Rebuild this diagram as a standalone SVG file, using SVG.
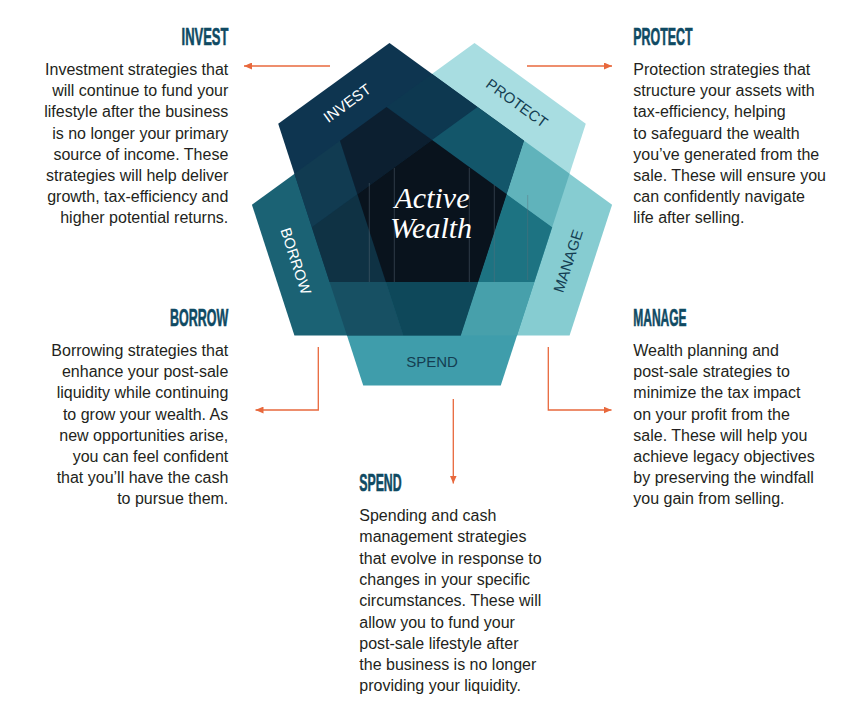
<svg xmlns="http://www.w3.org/2000/svg" width="853" height="720" viewBox="0 0 853 720">
<style>
.body{font-family:"Liberation Sans",Arial,sans-serif;font-size:16px;fill:#231f20}
.r{text-anchor:end}
.h{font-family:"Liberation Sans",Arial,sans-serif;font-weight:bold;font-size:23px;fill:#0f4a63;stroke:#0f4a63;stroke-width:0.6}
.lbl{font-family:"Liberation Sans",Arial,sans-serif;font-size:15px;text-anchor:middle}
.w{fill:#ffffff}
.d{fill:#143d52}
.arrow{fill:none;stroke:#e8683c;stroke-width:1.3}
.seam{stroke:#5f707c;stroke-width:0.8;opacity:0.55}
</style>
<defs>
<marker id="ah" viewBox="0 0 8 7" refX="8" refY="3.5" markerWidth="8" markerHeight="7" orient="auto" markerUnits="userSpaceOnUse"><path d="M0,0 L8,3.5 L0,7 z" fill="#e8683c"/></marker>
</defs>
<rect width="853" height="720" fill="#ffffff"/>

<g id="protect">
<polygon points="474.53,42.98 585.79,123.81 534.39,282.01 385.86,282.01 339.97,140.75" fill="#a8dde1"/>
<text class="lbl d" transform="translate(517,103) rotate(36)" y="5.4">PROTECT</text>
<text class="h" x="633.3" y="45" textLength="59.3" lengthAdjust="spacingAndGlyphs">PROTECT</text>
<text class="body" x="633.3" y="75"><tspan x="633.3">Protection strategies that</tspan><tspan x="633.3" dy="21.2">structure your assets with</tspan><tspan x="633.3" dy="21.2">tax-efficiency, helping</tspan><tspan x="633.3" dy="21.2">to safeguard the wealth</tspan><tspan x="633.3" dy="21.2">you’ve generated from the</tspan><tspan x="633.3" dy="21.2">sale. These will ensure you</tspan><tspan x="633.3" dy="21.2">can confidently navigate</tspan><tspan x="633.3" dy="21.2">life after selling.</tspan></text>
</g>

<g id="manage">
<polygon points="612.08,204.71 477.51,106.95 357.34,194.24 403.25,335.5 569.58,335.5" fill="#86ccd1"/>
<text class="lbl d" transform="translate(568,261) rotate(-72)" y="5.4">MANAGE</text>
<text class="h" x="633.3" y="326" textLength="53.3" lengthAdjust="spacingAndGlyphs">MANAGE</text>
<text class="body" x="633.3" y="356"><tspan x="633.3">Wealth planning and</tspan><tspan x="633.3" dy="21.2">post-sale strategies to</tspan><tspan x="633.3" dy="21.2">minimize the tax impact</tspan><tspan x="633.3" dy="21.2">on your profit from the</tspan><tspan x="633.3" dy="21.2">sale. These will help you</tspan><tspan x="633.3" dy="21.2">achieve legacy objectives</tspan><tspan x="633.3" dy="21.2">by preserving the windfall</tspan><tspan x="633.3" dy="21.2">you gain from selling.</tspan></text>
</g>

<g id="spend">
<polygon points="432,140 552.16,227.31 500.76,385.5 363.24,385.5 311.84,227.31" fill="#3f9dab"/>
<text class="lbl d" x="432" y="366.5">SPEND</text>
<text class="h" x="359.3" y="491" textLength="42.3" lengthAdjust="spacingAndGlyphs">SPEND</text>
<text class="body" x="359.3" y="521"><tspan x="359.3">Spending and cash</tspan><tspan x="359.3" dy="21.3">management strategies</tspan><tspan x="359.3" dy="21.3">that evolve in response to</tspan><tspan x="359.3" dy="21.3">changes in your specific</tspan><tspan x="359.3" dy="21.3">circumstances. These will</tspan><tspan x="359.3" dy="21.3">allow you to fund your</tspan><tspan x="359.3" dy="21.3">post-sale lifestyle after</tspan><tspan x="359.3" dy="21.3">the business is no longer</tspan><tspan x="359.3" dy="21.3">providing your liquidity.</tspan></text>
</g>

<g id="borrow">
<polygon points="251.92,204.71 386.49,106.95 506.66,194.24 460.75,335.5 294.42,335.5" fill="#1b6274"/>
<text class="lbl w" transform="translate(296,261) rotate(72)" y="5.4">BORROW</text>
<text class="h r" x="228.3" y="326" textLength="58.3" lengthAdjust="spacingAndGlyphs">BORROW</text>
<text class="body r" x="228.3" y="356"><tspan x="228.3">Borrowing strategies that</tspan><tspan x="228.3" dy="21.2">enhance your post-sale</tspan><tspan x="228.3" dy="21.2">liquidity while continuing</tspan><tspan x="228.3" dy="21.2">to grow your wealth. As</tspan><tspan x="228.3" dy="21.2">new opportunities arise,</tspan><tspan x="228.3" dy="21.2">you can feel confident</tspan><tspan x="228.3" dy="21.2">that you’ll have the cash</tspan><tspan x="228.3" dy="21.2">to pursue them.</tspan></text>
</g>

<g id="invest">
<polygon points="389.47,42.98 524.03,140.75 478.14,282.01 329.61,282.01 278.21,123.81" fill="#0e3550"/>
<text class="lbl w" transform="translate(347,103) rotate(-36)" y="5.4">INVEST</text>
<text class="h r" x="228.3" y="45" textLength="46.7" lengthAdjust="spacingAndGlyphs">INVEST</text>
<text class="body r" x="228.3" y="75"><tspan x="228.3">Investment strategies that</tspan><tspan x="228.3" dy="21.2">will continue to fund your</tspan><tspan x="228.3" dy="21.2">lifestyle after the business</tspan><tspan x="228.3" dy="21.2">is no longer your primary</tspan><tspan x="228.3" dy="21.2">source of income. These</tspan><tspan x="228.3" dy="21.2">strategies will help deliver</tspan><tspan x="228.3" dy="21.2">growth, tax-efficiency and</tspan><tspan x="228.3" dy="21.2">higher potential returns.</tspan></text>
</g>

<g id="overlaps">
<polygon points="432,140 386.49,106.95 432,73.9 477.51,106.95" fill="#0d3850"/>
<polygon points="506.66,194.24 524.03,140.75 569.54,173.81 552.16,227.31" fill="#60b3bb"/>
<polygon points="478.14,282.01 534.39,282.01 517.01,335.5 460.75,335.5" fill="#47a0ab"/>
<polygon points="385.86,282.01 403.25,335.5 346.99,335.5 329.61,282.01" fill="#175063"/>
<polygon points="357.34,194.24 311.84,227.31 294.46,173.81 339.97,140.75" fill="#113b51"/>
<polygon points="432,140 477.51,106.95 524.03,140.75 506.66,194.24" fill="#13566a"/>
<polygon points="506.66,194.24 552.16,227.31 534.39,282.01 478.14,282.01" fill="#1d7382"/>
<polygon points="478.14,282.01 460.75,335.5 403.25,335.5 385.86,282.01" fill="#0e485a"/>
<polygon points="385.86,282.01 329.61,282.01 311.84,227.31 357.34,194.24" fill="#0f3244"/>
<polygon points="357.34,194.24 339.97,140.75 386.49,106.95 432,140" fill="#0c1f30"/>
</g>

<g id="active-wealth">
<polygon points="432,140 506.66,194.24 478.14,282.01 385.86,282.01 357.34,194.24" fill="#09131d"/>
<line class="seam" x1="369.3" y1="183" x2="369.3" y2="282"/>
<line class="seam" x1="394.3" y1="168" x2="394.3" y2="282"/>
<line class="seam" x1="469.3" y1="168" x2="469.3" y2="282"/>
<line class="seam" x1="494.3" y1="185" x2="494.3" y2="282"/>
<line class="seam" x1="527.7" y1="195" x2="527.7" y2="280"/>
<text x="432" y="208" font-family="'Liberation Serif','Times New Roman',serif" font-style="italic" font-size="30" fill="#ffffff" text-anchor="middle">Active</text>
<text x="431" y="238" font-family="'Liberation Serif','Times New Roman',serif" font-style="italic" font-size="30" fill="#ffffff" text-anchor="middle">Wealth</text>
</g>

<g id="connectors">
<path class="arrow" d="M330,66 H244" marker-end="url(#ah)"/>
<path class="arrow" d="M527,66 H612" marker-end="url(#ah)"/>
<path class="arrow" d="M318.3,347 V410 H255.5" marker-end="url(#ah)"/>
<path class="arrow" d="M548.3,347 V410 H611.5" marker-end="url(#ah)"/>
<path class="arrow" d="M453.3,399 V483.5" marker-end="url(#ah)"/>
</g>
</svg>
